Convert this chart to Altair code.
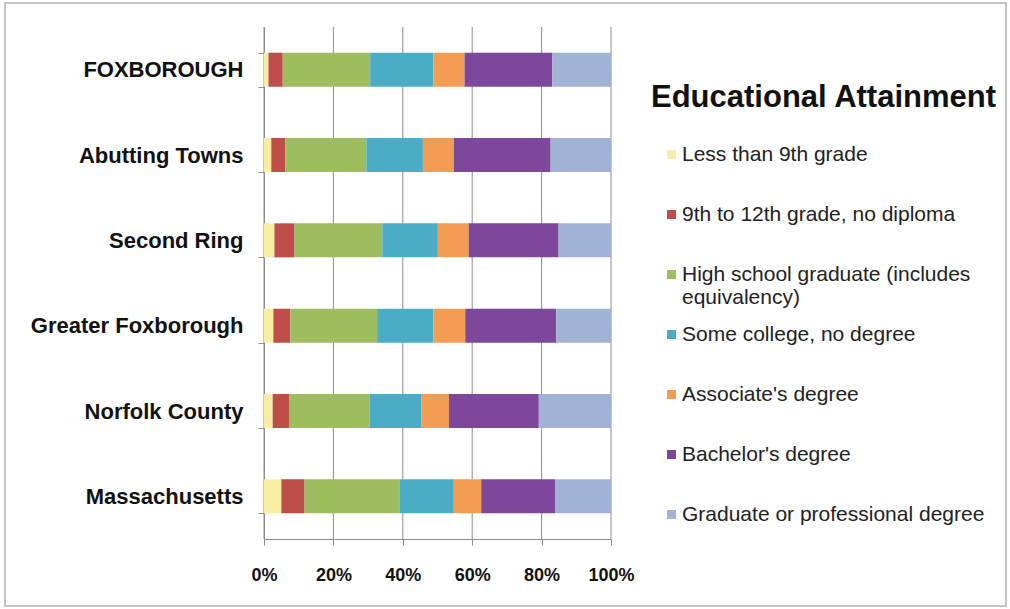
import altair as alt
import pandas as pd

regions = ["FOXBOROUGH", "Abutting Towns", "Second Ring", "Greater Foxborough",
           "Norfolk County", "Massachusetts"]
levels = ["Less than 9th grade", "9th to 12th grade, no diploma",
          "High school graduate (includes equivalency)", "Some college, no degree",
          "Associate's degree", "Bachelor's degree", "Graduate or professional degree"]
colors = ["#F6EEA0", "#BF4E4B", "#9DBD5E", "#4BACC6", "#F39C53", "#7D479B", "#A0B3D4"]

less9 = [1.3, 2.1, 3.0, 2.7, 2.5, 5.0]
no_dipl = [4.1, 4.0, 5.8, 4.9, 4.7, 6.7]
hs = [25.2, 23.4, 25.3, 25.0, 23.2, 27.3]
some_col = [18.2, 16.3, 16.0, 16.2, 14.9, 15.7]
assoc = [9.0, 8.9, 8.9, 9.2, 8.0, 7.9]
bach = [25.3, 27.9, 25.9, 26.2, 25.9, 21.4]
grad = [16.9, 17.4, 15.1, 15.8, 20.8, 16.0]

x_ticks = [0, 0.2, 0.4, 0.6, 0.8, 1.0]

series = [less9, no_dipl, hs, some_col, assoc, bach, grad]
rows = []
for li, (lvl, vals) in enumerate(zip(levels, series)):
    for r, v in zip(regions, vals):
        rows.append({"region": r, "level": lvl, "order": li, "value": v})
df = pd.DataFrame(rows)

FONT = "Liberation Sans"
GRID = "#8C8C8C"

x_axis = alt.Axis(values=x_ticks, format=".0%", labelFlush=False,
                  labelFont=FONT, labelFontSize=18, labelFontWeight="bold",
                  labelColor="#111", tickSize=6, tickColor=GRID,
                  domainColor=GRID, grid=False, labelPadding=21)
x_scale = alt.Scale(domain=[0, 1], nice=False)

bars = alt.Chart(df).mark_bar(size=34).encode(
    y=alt.Y("region:N", sort=regions, title=None,
            scale=alt.Scale(paddingInner=0.6, paddingOuter=0.3),
            axis=alt.Axis(labelFont=FONT, labelFontSize=22, labelFontWeight="bold",
                          labelColor="#111", tickBand="extent", tickSize=6,
                          tickColor=GRID, domainColor=GRID, labelPadding=15,
                          labelLimit=300, grid=False)),
    x=alt.X("value:Q", stack="normalize", title=None, scale=x_scale, axis=x_axis),
    color=alt.Color("level:N", sort=levels,
                    scale=alt.Scale(domain=levels, range=colors),
                    legend=alt.Legend(
                        title="Educational Attainment", orient="none",
                        legendX=387, legendY=56,
                        titleFont=FONT, titleFontSize=31, titleFontWeight="bold",
                        titleColor="#111", titlePadding=30, titleLimit=500,
                        labelFont=FONT, labelFontSize=21, labelColor="#222",
                        labelLimit=400,
                        labelExpr="datum.label == 'High school graduate (includes equivalency)' ? ['High school graduate (includes', 'equivalency)'] : datum.label",
                        symbolType="square", symbolSize=81, symbolStrokeWidth=0,
                        symbolOffset=10, labelOffset=0,
                        gridAlign="all", rowPadding=15)),
    order=alt.Order("order:Q"),
)

grid = alt.Chart(pd.DataFrame({"g": x_ticks})).mark_rule(
    color=GRID, strokeWidth=1
).encode(x=alt.X("g:Q", title=None, scale=x_scale, axis=x_axis))

border = alt.Chart(pd.DataFrame({"a": [0]})).mark_rect(
    filled=False, stroke="#C4C4C4", strokeWidth=2
).encode(x=alt.value(-259), x2=alt.value(742), y=alt.value(-24), y2=alt.value(579))

chart = alt.layer(border, grid, bars).properties(
    width=347, height=512,
    background="white",
    autosize=alt.AutoSizeParams(type="none"),
    padding={"left": 264, "top": 27, "right": 399, "bottom": 70},
).configure_view(stroke=None)

chart.save("out.html", embed_options={"renderer": "svg", "actions": False})
